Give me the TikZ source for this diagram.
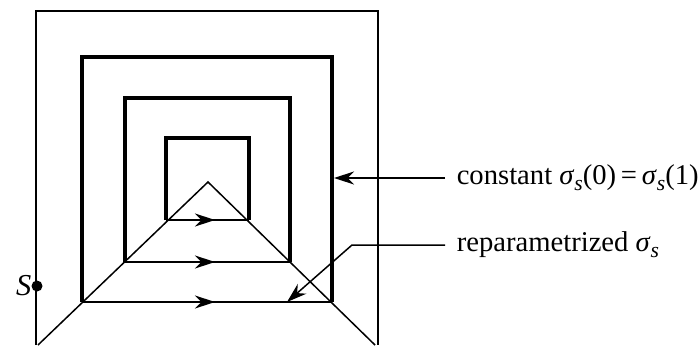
\documentclass[tikz,border=0pt]{standalone}
\usepackage{fontspec}
\setmainfont{Liberation Serif}
\usetikzlibrary{positioning, arrows.meta, decorations.markings}
\newcommand{\sigmas}{\textit{σ}\raisebox{-0.42ex}{\fontsize{12.3}{12}\selectfont\itshape s}}

\begin{document}
\begin{tikzpicture}[x=0.02cm, y=-0.02cm,
  sq/.style={line width=2pt, line join=miter},
  thinline/.style={line width=0.85pt},
  midarrow/.style={thinline, postaction={decorate}, decoration={markings,
    mark=at position #1 with {\arrow{Stealth[length=4mm, width=2.6mm]}}}},
  arr/.style={-{Stealth[length=4mm, width=2.6mm]}, thinline},
  lbl/.style={anchor=west, inner xsep=6.5pt, inner ysep=2pt, font=\fontsize{16.3}{19}\selectfont}
]
\useasboundingbox (0,0) rectangle (699,345);

% outer frame
\draw[thinline] (36,345) -- (36,11) -- (378,11) -- (378,345);

% nested squares, bottoms traced with arrows
\foreach \i/\l/\t/\r/\b in {1/82/57/332/302, 2/125/98/290/262, 3/166/138/249/220} {
  \pgfmathsetmacro\tippos{(215-\l)/(\r-\l)}
  \coordinate (bl\i) at (\l,\b);
  \coordinate (br\i) at (\r,\b);
  \draw[sq] (bl\i) -- (\l,\t) -- (\r,\t) -- (br\i);
  \draw[midarrow=\tippos] (bl\i) -- (br\i);
}

% the triangle through the corners
\coordinate (apex) at (208,182);
\coordinate (foot l) at (38,345);
\coordinate (foot r) at (375,345);
\draw[thinline] (foot l) -- (apex) -- (foot r);

% base point
\coordinate (S) at (37,286);
\fill (S) circle (5.5);
\node[left=3pt of S, inner sep=0pt, font=\fontsize{17.3}{20}\selectfont] (Slbl) {\textit{S}};

% labels
\node[lbl] (const) at (445,178) {constant \sigmas(0)\,=\,\sigmas(1)};
\node[lbl] (repar) at (445,245) {reparametrized \sigmas};

\coordinate (hit const) at (334,178);
\coordinate (bend) at (352,245);
\coordinate (hit repar) at (287,302);
\draw[arr] (const.west) -- (hit const);
\draw[arr] (repar.west) -- (bend) -- (hit repar);
\end{tikzpicture}
\end{document}
